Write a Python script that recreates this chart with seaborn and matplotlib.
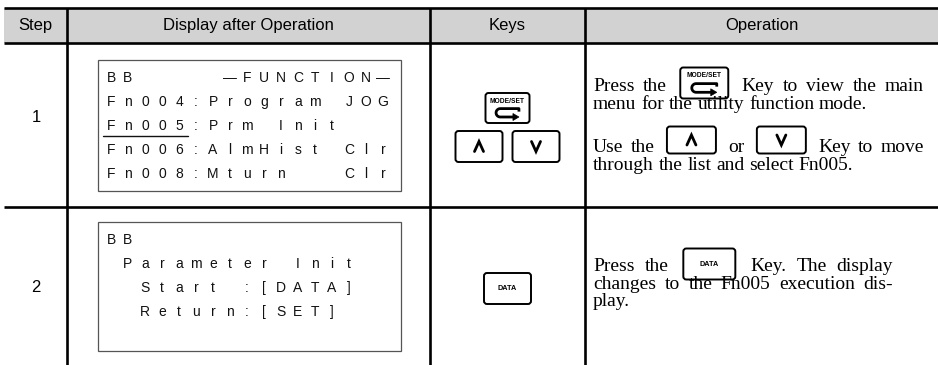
import numpy as np
import seaborn as sns
import matplotlib.pyplot as plt
from matplotlib.patches import FancyBboxPatch, Rectangle, Polygon

# table content
headers = ["Step", "Display after Operation", "Keys", "Operation"]
steps = ["1", "2"]

display_step1 = ["BB     \u2014FUNCTION\u2014",
                 "Fn004:Program JOG",
                 "Fn005:Prm Init",
                 "Fn006:AlmHist Clr",
                 "Fn008:Mturn   Clr"]
cursor_step1 = (2, 5)          # line index, number of underlined chars
display_step2 = ["BB",
                 " Parameter Init",
                 "  Start :[DATA]",
                 "  Return:[SET]"]

keys_step1 = [["MODESET"], ["UP", "DOWN"]]
keys_step2 = [["DATA"]]

# paragraphs -> lines -> pieces ({KEY} = key icon inside the text)
operation_step1 = [[["Press the", "{MODESET}", "Key to view the main"],
                    ["menu for the utility function mode."]],
                   [["Use the", "{UP}", "or", "{DOWN}", "Key to move"],
                    ["through the list and select Fn005."]]]
operation_step2 = [[["Press the", "{DATA}", "Key. The display"],
                    ["changes to the Fn005 execution dis-"],
                    ["play."]]]

sns.set_theme(style="white")
plt.rcParams['font.family'] = ['Liberation Sans', 'DejaVu Sans']

fig = plt.figure(figsize=(9.38, 3.65), dpi=100)
ax = fig.add_axes([0, 0, 1, 1])
ax.set_xlim(0, 938)
ax.set_ylim(365, 0)
ax.axis("off")
renderer = fig.canvas.get_renderer()

# column borders and row borders (pixels)
col_x = [4, 67, 430, 585, 938]
head_top, head_bot, row_sep = 7.5, 43, 207
LW = 1.9

ax.add_patch(Rectangle((col_x[0], head_top), col_x[-1] - col_x[0], head_bot - head_top,
                       facecolor="#d2d2d2", edgecolor="none", zorder=0))
for y in [head_top, head_bot, row_sep]:
    ax.plot([col_x[0], col_x[-1]], [y, y], color="black", lw=LW, solid_capstyle="butt")
for x in col_x[1:4]:
    ax.plot([x, x], [head_top, 365], color="black", lw=LW, solid_capstyle="butt")

for i, h in enumerate(headers):
    ax.text((col_x[i] + col_x[i + 1]) / 2, 25.5, h, ha="center", va="center",
            fontsize=12, color="black")

# step numbers
for s, y in zip(steps, [118, 288]):
    ax.text(36, y, s, ha="center", va="center", fontsize=12, color="black")


def draw_display(lines, top, bottom, first_base, cursor=None):
    ax.add_patch(Rectangle((98, top), 303, bottom - top, facecolor="white",
                           edgecolor="#555555", lw=0.9, zorder=1))
    for j, line in enumerate(lines):
        base = first_base + j * 24
        for k, ch in enumerate(line):
            if ch != " ":
                ax.text(111 + 17 * k, base, ch, ha="center", va="baseline",
                        fontsize=10, color="#111111", zorder=2)
        if cursor is not None and cursor[0] == j:
            ax.plot([103, 103 + 17 * cursor[1]], [base + 6, base + 6],
                    color="#111111", lw=1.0, zorder=2)


draw_display(display_step1, 60, 191, 82, cursor_step1)
draw_display(display_step2, 222, 351, 244)


def key_box(x, y, w, h, kind):
    ax.add_patch(FancyBboxPatch((x, y), w, h, boxstyle="round,pad=0,rounding_size=3",
                                facecolor="none", edgecolor="black", lw=1.4, zorder=3))
    cx, cy = x + w / 2, y + h / 2
    if kind == "UP":
        ax.plot([cx - 4.5, cx, cx + 4.5], [cy + 5, cy - 5, cy + 5], color="black",
                lw=2.0, solid_joinstyle="miter", zorder=4)
    elif kind == "DOWN":
        ax.plot([cx - 4.5, cx, cx + 4.5], [cy - 5, cy + 5, cy - 5], color="black",
                lw=2.0, solid_joinstyle="miter", zorder=4)
    elif kind == "DATA":
        ax.text(cx, cy, "DATA", ha="center", va="center", fontsize=5.2,
                fontweight="bold", color="black", zorder=4)
    elif kind == "MODESET":
        ax.text(cx, y + h * 0.27, "MODE/SET", ha="center", va="center", fontsize=4.8,
                fontweight="bold", color="black", zorder=4)
        # return arrow
        xl, xr = cx - w * 0.26, cx + w * 0.26
        yt, yb = y + h * 0.52, y + h * 0.80
        r = (yb - yt) / 2
        ang = np.linspace(np.pi / 2, 3 * np.pi / 2, 20)
        px = np.concatenate([[xr, xr, xl + r], xl + r + r * np.cos(ang), [xr - 5]])
        py = np.concatenate([[yt + 3, yt, yt], yt + r - r * np.sin(ang), [yb]])
        ax.plot(px, py, color="black", lw=2.0, zorder=4, solid_capstyle="butt")
        ax.add_patch(Polygon([[xr - 6, yb - 3.5], [xr - 6, yb + 3.5], [xr, yb]],
                             closed=True, facecolor="black", edgecolor="black",
                             lw=0.5, zorder=4))


# keys column
key_size = {"MODESET": (44, 30), "UP": (47, 31), "DOWN": (47, 31), "DATA": (47, 31)}
key_cx = (col_x[2] + col_x[3]) / 2


def draw_keys(rows, tops):
    for row, top in zip(rows, tops):
        total = sum(key_size[k][0] for k in row) + 10 * (len(row) - 1)
        x = key_cx - total / 2
        for k in row:
            w, h = key_size[k]
            key_box(x, top, w, h, k)
            x += w + 10


draw_keys(keys_step1, [93, 131])
draw_keys(keys_step2, [273])

# operation text with inline keys, justified like the printed manual
inline_size = {"MODESET": (48, 31), "UP": (49, 27), "DOWN": (49, 27), "DATA": (52, 31)}
inline_lift = {"MODESET": 8, "UP": 12, "DOWN": 12, "DATA": 7}
TEXT_X, PAD, FS = 593, 5, 14


def draw_operation(paragraphs, baselines, right):
    for para, bases in zip(paragraphs, baselines):
        for li, (line, base) in enumerate(zip(para, bases)):
            items = []
            for piece in line:
                if piece.startswith("{"):
                    k = piece.strip("{}")
                    items.append(("key", k, inline_size[k][0] + 2 * PAD))
                else:
                    for word in piece.split():
                        t = ax.text(0, base, word, ha="left", va="baseline", fontsize=FS,
                                    family="Liberation Serif", color="black", zorder=5)
                        items.append(("word", t, t.get_window_extent(renderer=renderer).width))
            used = sum(it[2] for it in items)
            if li < len(para) - 1 and len(items) > 1:
                gap = (right - TEXT_X - used) / (len(items) - 1)
            else:
                gap = FS * 100 / 72 * 0.25
            x = TEXT_X
            for kind, obj, w in items:
                if kind == "key":
                    kw, kh = inline_size[obj]
                    key_box(x + PAD, base - inline_lift[obj] - kh / 2, kw, kh, obj)
                else:
                    obj.set_x(x)
                x += w + gap


draw_operation(operation_step1, [[91, 109], [152, 170]], 924)
draw_operation(operation_step2, [[271, 289, 306]], 893)

fig.savefig("out.png", dpi=100)
